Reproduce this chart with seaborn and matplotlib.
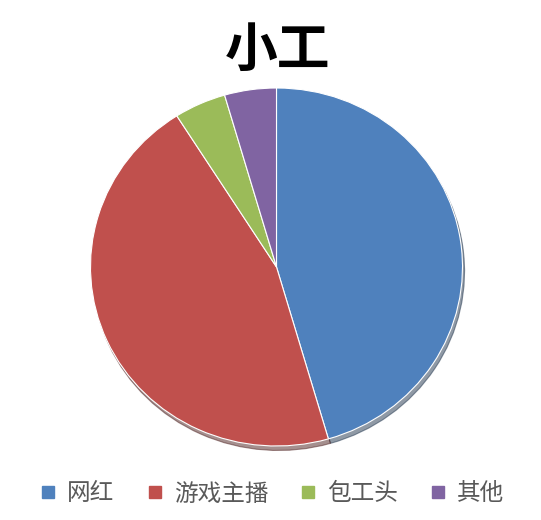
import matplotlib
matplotlib.use("Agg")
import matplotlib.pyplot as plt
import seaborn as sns
from matplotlib.lines import Line2D

sns.set_theme(style="white")
plt.rcParams['font.family'] = ['Noto Sans CJK SC', 'DejaVu Sans']

title = "小工"
categories = ["网红", "游戏主播", "包工头", "其他"]
values = [45.5, 45.5, 4.5, 4.5]
colors = ["#4F81BD", "#C0504D", "#9BBB59", "#8064A2"]

fig = plt.figure(figsize=(5.41, 5.2), dpi=100)
fig.patch.set_facecolor("white")

cx, cy, rx, ry = 276.5, 267, 186, 179
W, H = 541, 520
ax = fig.add_axes([(cx - rx) / W, (H - cy - ry) / H, 2 * rx / W, 2 * ry / H])
ax.pie(values, colors=colors, startangle=90, counterclock=False, radius=1,
       wedgeprops=dict(edgecolor="white", linewidth=0.8),
       shadow={'ox': 0.008, 'oy': -0.018, 'shade': 0.6})
ax.set_xlim(-1.0, 1.0)
ax.set_ylim(-1.0, 1.0)
ax.set_aspect("auto")
ax.axis("off")

fig.text(278 / W, 1 - 50 / H, title, ha="center", va="center",
         fontsize=38, fontweight="bold", color="black")

handles = [Line2D([0], [0], marker="s", linestyle="", markersize=8,
                  markerfacecolor=c, markeredgecolor=c) for c in colors]
leg = fig.legend(handles, categories, loc="center", bbox_to_anchor=(0.5, 1 - 494 / H),
                 ncol=4, frameon=False, fontsize=17, handletextpad=0.3,
                 columnspacing=1.2, handlelength=1.0)
for t in leg.get_texts():
    t.set_color("#595959")

fig.savefig("out.png", dpi=100, facecolor="white")
